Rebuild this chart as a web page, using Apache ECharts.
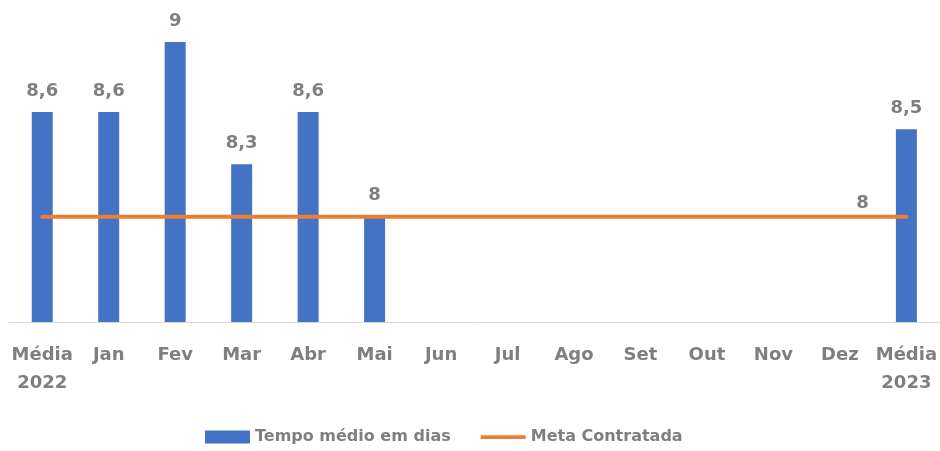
<!DOCTYPE html>
<html>
<head>
	<meta charset="utf-8">
	<script src="https://cdn.jsdelivr.net/npm/echarts@6/dist/echarts.min.js"></script>
</head>
<body style="margin:0">
	<div id="main" style="width:940px;height:451px;"></div>
</body>
<script type="text/javascript">
var categorias = ['Média\n2022','Jan','Fev','Mar','Abr','Mai','Jun','Jul','Ago','Set','Out','Nov','Dez','Média\n2023'];
var tempoMedio = [8.6, 8.6, 9, 8.3, 8.6, 8, null, null, null, null, null, null, null, 8.5];
var meta = [8, 8, 8, 8, 8, 8, 8, 8, 8, 8, 8, 8, 8, 8];
var metaLabelIndex = 13;

var fonte = 'DejaVu Sans';
var cinza = '#7f7f7f';

var metaData = meta.map(function (v, i) {
	if (i == metaLabelIndex) {
		return { value: v, label: { show: true, position: 'top', distance: 4, offset: [-44, 0] } };
	}
	return v;
});

var option = {
	animation: false,
	grid: { left: 9, right: -1, top: 7, bottom: 129 },
	legend: {
		top: 424,
		left: 200,
		itemWidth: 45,
		itemHeight: 13,
		itemGap: 30,
		textStyle: { color: cinza, fontFamily: fonte, fontWeight: 'bold', fontSize: 16 },
		data: [
			{ name: 'Tempo médio em dias', icon: 'rect' },
			{ name: 'Meta Contratada', icon: 'path://M0,0L48,0L48,4L0,4Z' }
		]
	},
	xAxis: {
		type: 'category',
		data: categorias,
		axisTick: { show: false },
		axisLine: { lineStyle: { color: '#d9d9d9', width: 1 } },
		axisLabel: {
			interval: 0,
			margin: 19,
			color: cinza,
			fontFamily: fonte,
			fontWeight: 'bold',
			fontSize: 18,
			lineHeight: 28
		}
	},
	yAxis: {
		type: 'value',
		min: 7.398,
		max: 9.2,
		show: false,
		splitLine: { show: false }
	},
	series: [
		{
			name: 'Tempo médio em dias',
			type: 'bar',
			data: tempoMedio,
			barWidth: 21,
			itemStyle: { color: '#4472c4' },
			label: {
				show: true,
				position: 'top',
				distance: 12,
				color: cinza,
				fontFamily: fonte,
				fontWeight: 'bold',
				fontSize: 18,
				formatter: function (p) {
					return String(p.value).replace('.', ',');
				}
			}
		},
		{
			name: 'Meta Contratada',
			type: 'line',
			data: metaData,
			symbol: 'circle',
			symbolSize: 0,
			showSymbol: true,
			z: 3,
			lineStyle: { color: '#ed7d31', width: 4, cap: 'round' },
			itemStyle: { color: '#ed7d31' },
			label: {
				show: false,
				color: cinza,
				fontFamily: fonte,
				fontWeight: 'bold',
				fontSize: 18
			}
		}
	]
};

var myChart = echarts.init(document.getElementById('main'));
myChart.setOption(option);
</script>
</html>
